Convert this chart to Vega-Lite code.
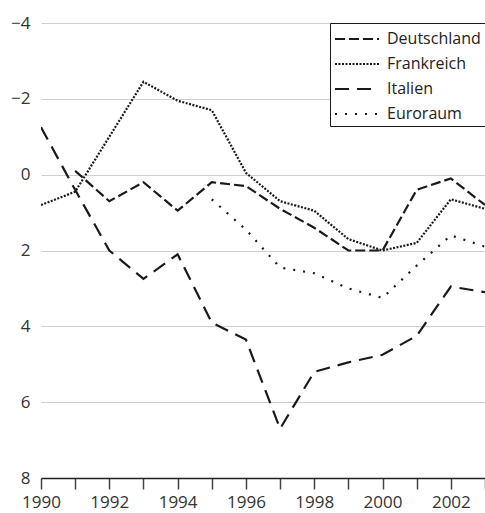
{
  "$schema": "https://vega.github.io/schema/vega-lite/v6.json",
  "width": 444,
  "height": 455,
  "autosize": {"type": "none"},
  "padding": {"left": 41, "top": 23, "right": 0, "bottom": 35},
  "background": "white",
  "config": {
    "view": {"stroke": null},
    "font": "Open Sans",
    "axis": {"labelFont": "Open Sans", "labelColor": "#333333", "labelFontSize": 17}
  },
  "data": {
    "values": [
      {"Jahr": 1991, "Land": "Deutschland", "Wert": -0.1},
      {"Jahr": 1992, "Land": "Deutschland", "Wert": 0.7},
      {"Jahr": 1993, "Land": "Deutschland", "Wert": 0.2},
      {"Jahr": 1994, "Land": "Deutschland", "Wert": 0.95},
      {"Jahr": 1995, "Land": "Deutschland", "Wert": 0.2},
      {"Jahr": 1996, "Land": "Deutschland", "Wert": 0.3},
      {"Jahr": 1997, "Land": "Deutschland", "Wert": 0.9},
      {"Jahr": 1998, "Land": "Deutschland", "Wert": 1.4},
      {"Jahr": 1999, "Land": "Deutschland", "Wert": 2.0},
      {"Jahr": 2000, "Land": "Deutschland", "Wert": 2.0},
      {"Jahr": 2001, "Land": "Deutschland", "Wert": 0.4},
      {"Jahr": 2002, "Land": "Deutschland", "Wert": 0.1},
      {"Jahr": 2003, "Land": "Deutschland", "Wert": 0.8},
      {"Jahr": 1990, "Land": "Frankreich", "Wert": 0.8},
      {"Jahr": 1991, "Land": "Frankreich", "Wert": 0.45},
      {"Jahr": 1992, "Land": "Frankreich", "Wert": -1.0},
      {"Jahr": 1993, "Land": "Frankreich", "Wert": -2.45},
      {"Jahr": 1994, "Land": "Frankreich", "Wert": -1.95},
      {"Jahr": 1995, "Land": "Frankreich", "Wert": -1.7},
      {"Jahr": 1996, "Land": "Frankreich", "Wert": -0.05},
      {"Jahr": 1997, "Land": "Frankreich", "Wert": 0.7},
      {"Jahr": 1998, "Land": "Frankreich", "Wert": 0.95},
      {"Jahr": 1999, "Land": "Frankreich", "Wert": 1.7},
      {"Jahr": 2000, "Land": "Frankreich", "Wert": 2.0},
      {"Jahr": 2001, "Land": "Frankreich", "Wert": 1.8},
      {"Jahr": 2002, "Land": "Frankreich", "Wert": 0.65},
      {"Jahr": 2003, "Land": "Frankreich", "Wert": 0.9},
      {"Jahr": 1990, "Land": "Italien", "Wert": -1.25},
      {"Jahr": 1991, "Land": "Italien", "Wert": 0.4},
      {"Jahr": 1992, "Land": "Italien", "Wert": 2.0},
      {"Jahr": 1993, "Land": "Italien", "Wert": 2.75},
      {"Jahr": 1994, "Land": "Italien", "Wert": 2.1},
      {"Jahr": 1995, "Land": "Italien", "Wert": 3.9},
      {"Jahr": 1996, "Land": "Italien", "Wert": 4.35},
      {"Jahr": 1997, "Land": "Italien", "Wert": 6.7},
      {"Jahr": 1998, "Land": "Italien", "Wert": 5.2},
      {"Jahr": 1999, "Land": "Italien", "Wert": 4.95},
      {"Jahr": 2000, "Land": "Italien", "Wert": 4.75},
      {"Jahr": 2001, "Land": "Italien", "Wert": 4.25},
      {"Jahr": 2002, "Land": "Italien", "Wert": 2.95},
      {"Jahr": 2003, "Land": "Italien", "Wert": 3.1},
      {"Jahr": 1995, "Land": "Euroraum", "Wert": 0.65},
      {"Jahr": 1996, "Land": "Euroraum", "Wert": 1.45},
      {"Jahr": 1997, "Land": "Euroraum", "Wert": 2.45},
      {"Jahr": 1998, "Land": "Euroraum", "Wert": 2.6},
      {"Jahr": 1999, "Land": "Euroraum", "Wert": 3.0},
      {"Jahr": 2000, "Land": "Euroraum", "Wert": 3.25},
      {"Jahr": 2001, "Land": "Euroraum", "Wert": 2.4},
      {"Jahr": 2002, "Land": "Euroraum", "Wert": 1.6},
      {"Jahr": 2003, "Land": "Euroraum", "Wert": 1.9}
    ]
  },
  "mark": {"type": "line", "color": "#1a1a1a", "strokeWidth": 2.2, "clip": true},
  "encoding": {
    "x": {
      "field": "Jahr",
      "type": "quantitative",
      "scale": {"domain": [1990, 2003], "nice": false, "zero": false},
      "axis": {
        "title": null,
        "values": [1990, 1991, 1992, 1993, 1994, 1995, 1996, 1997, 1998, 1999, 2000, 2001, 2002, 2003],
        "format": "d",
        "labelExpr": "datum.value % 2 === 0 ? datum.label : ''",
        "grid": false,
        "domainColor": "#222222",
        "domainWidth": 1.5,
        "tickColor": "#444444",
        "tickWidth": 1.5,
        "tickSize": 11,
        "labelPadding": 5,
        "labelFlush": false,
        "labelOverlap": false,
        "encode": {"ticks": {"update": {"y2": {"signal": "datum.value % 2 === 0 ? 11 : 5"}}}}
      }
    },
    "y": {
      "field": "Wert",
      "type": "quantitative",
      "scale": {"domain": [-4, 8], "reverse": true, "nice": false, "zero": false},
      "axis": {
        "title": null,
        "values": [-4, -2, 0, 2, 4, 6, 8],
        "domain": false,
        "ticks": false,
        "tickSize": 0,
        "labelPadding": 11,
        "grid": true,
        "gridColor": "#d0d0d0",
        "gridWidth": 1
      }
    },
    "strokeDash": {
      "field": "Land",
      "type": "nominal",
      "sort": ["Deutschland", "Frankreich", "Italien", "Euroraum"],
      "scale": {
        "domain": ["Deutschland", "Frankreich", "Italien", "Euroraum"],
        "range": [[10, 4], [2, 1.5], [14, 8], [2, 8]]
      },
      "legend": {
        "title": null,
        "orient": "top-right",
        "offset": 0,
        "strokeColor": "#1a1a1a",
        "fillColor": "white",
        "padding": 4,
        "rowPadding": 5,
        "symbolType": "M-1,0H3",
        "symbolSize": 484,
        "symbolStrokeWidth": 2,
        "symbolStrokeColor": "#1a1a1a",
        "labelFont": "Open Sans",
        "labelFontSize": 16,
        "labelColor": "#222222",
        "labelOffset": 29
      }
    }
  }
}
